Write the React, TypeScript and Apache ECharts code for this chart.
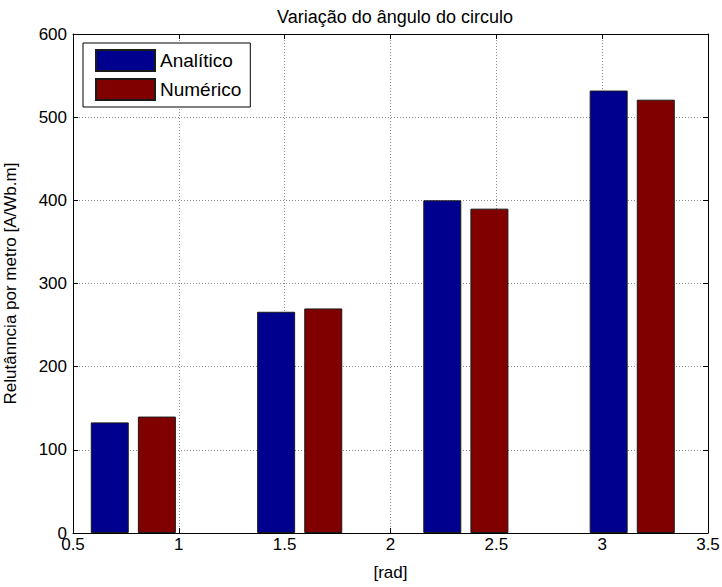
import React, { useEffect, useRef } from "react";
import * as echarts from "echarts";

const angles = [0.785, 1.571, 2.356, 3.142];
const analitico = [133, 266, 400, 532];
const numerico = [140, 270, 390, 521];
const seriesNames = ["Analítico", "Numérico"];
const titleText = "Variação do ângulo do circulo";
const xName = "[rad]";
const yName = "Relutânncia por metro [A/Wb.m]";

const FONT = "Liberation Sans";

export default function App() {
  const ref = useRef<HTMLDivElement>(null);
  useEffect(() => {
    if (!ref.current) return;
    const chart = echarts.init(ref.current, null, { renderer: "svg" });
    const gridLine = { show: true, lineStyle: { color: "#8a8a8a", type: [1, 2], width: 1 } };
    const axisLine = { show: true, onZero: false, lineStyle: { color: "#000", width: 1 } };
    const tick = { show: true, inside: true, length: 5, lineStyle: { color: "#000", width: 1 } };
    chart.setOption({
      animation: false,
      backgroundColor: "#fff",
      title: {
        text: titleText,
        left: 390,
        top: 3,
        textAlign: "center",
        textStyle: { fontFamily: FONT, fontSize: 18, fontWeight: "normal", color: "#000" },
      },
      legend: {
        left: 83,
        top: 43,
        orient: "vertical",
        itemWidth: 59,
        itemHeight: 21,
        itemGap: 6,
        padding: [6, 9, 6, 12],
        borderColor: "#000",
        borderWidth: 1,
        backgroundColor: "#fff",
        icon: "rect",
        textStyle: { fontFamily: FONT, fontSize: 19, color: "#000" },
        data: seriesNames,
      },
      grid: {
        left: 73,
        right: 14,
        top: 34,
        bottom: 54,
        containLabel: false,
        outerBoundsMode: "none",
      },
      xAxis: [
        {
          type: "value",
          min: 0.5,
          max: 3.5,
          interval: 0.5,
          position: "bottom",
          axisLine,
          axisTick: tick,
          splitLine: gridLine,
          axisLabel: { margin: 3, fontFamily: FONT, fontSize: 17, color: "#000" },
          name: xName,
          nameLocation: "middle",
          nameGap: 31,
          nameTextStyle: { fontFamily: FONT, fontSize: 17, color: "#000" },
        },
        {
          type: "value",
          min: 0.5,
          max: 3.5,
          interval: 0.5,
          position: "top",
          axisLine,
          axisTick: tick,
          splitLine: { show: false },
          axisLabel: { show: false },
        },
      ],
      yAxis: [
        {
          type: "value",
          min: 0,
          max: 600,
          interval: 100,
          position: "left",
          axisLine,
          axisTick: tick,
          splitLine: gridLine,
          axisLabel: { margin: 6, fontFamily: FONT, fontSize: 17, color: "#000" },
          name: yName,
          nameLocation: "middle",
          nameGap: 54,
          nameTextStyle: { fontFamily: FONT, fontSize: 17, color: "#000" },
        },
        {
          type: "value",
          min: 0,
          max: 600,
          interval: 100,
          position: "right",
          axisLine,
          axisTick: tick,
          splitLine: { show: false },
          axisLabel: { show: false },
        },
      ],
      series: [
        {
          name: seriesNames[0],
          type: "bar",
          xAxisIndex: 0,
          yAxisIndex: 0,
          barWidth: 38,
          barGap: "24%",
          itemStyle: { color: "#00008f", borderColor: "#1a1a1a", borderWidth: 1 },
          data: angles.map((a, i) => [a, analitico[i]]),
        },
        {
          name: seriesNames[1],
          type: "bar",
          xAxisIndex: 0,
          yAxisIndex: 0,
          barWidth: 38,
          barGap: "24%",
          itemStyle: { color: "#800000", borderColor: "#1a1a1a", borderWidth: 1 },
          data: angles.map((a, i) => [a, numerico[i]]),
        },
      ],
    });
    return () => chart.dispose();
  }, []);
  return (
    <div
      ref={ref}
      style={{ position: "fixed", left: 0, top: 0, width: 722, height: 587, background: "#fff" }}
    />
  );
}
